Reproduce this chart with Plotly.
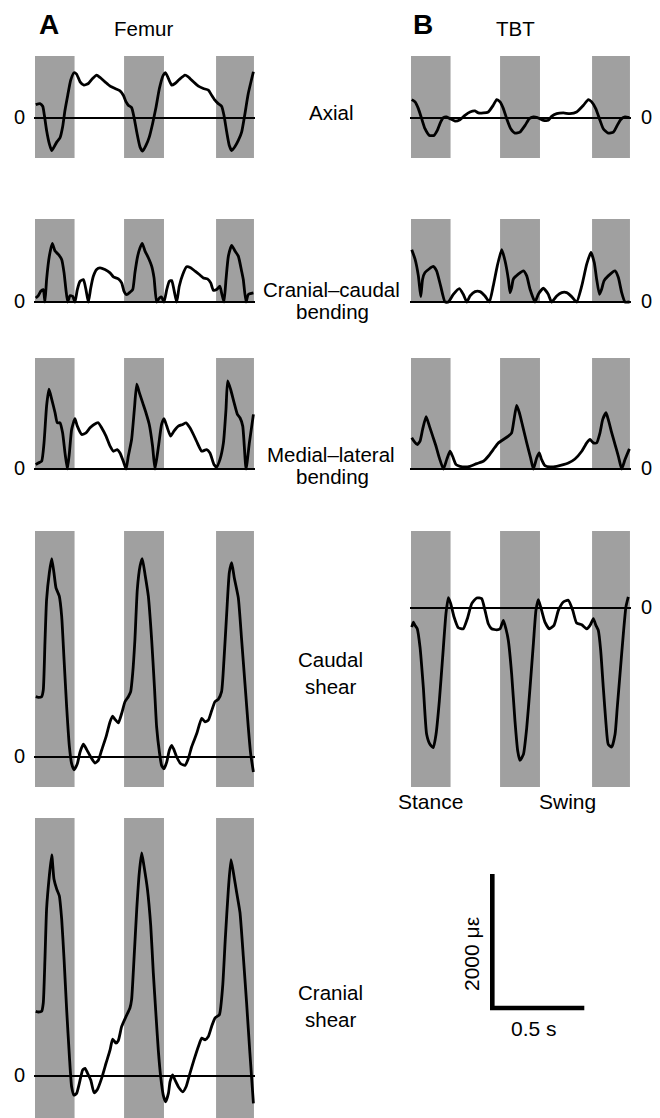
import plotly.graph_objects as go

W, H = 660, 1118          # target page size
OFF = 8                   # page body margin offset
FW, FH = W - OFF, H - OFF # figure size so that it fills the window exactly
PX_PER_S = 184.0            # 0.5 s scale bar = 92 px
PX_PER_UE = 134.0 / 2000.0  # 2000 microstrain scale bar = 134 px

# ---------------- data (time in s, strain in microstrain) ----------------
stance_start = [0.0, 0.484, 0.984]
stance_end = [0.215, 0.701, 1.19]

femur_axial_t = [0.004,0.027,0.042,0.051,0.063,0.078,0.091,0.103,0.118,0.136,0.150,0.163,0.178,0.194,0.212,0.226,0.245,0.266,0.290,0.313,0.335,0.353,0.380,0.408,0.435,0.462,0.480,0.495,0.507,0.525,0.538,0.553,0.571,0.585,0.603,0.621,0.639,0.658,0.676,0.697,0.710,0.725,0.743,0.761,0.784,0.815,0.833,0.861,0.888,0.915,0.942,0.960,0.978,0.996,1.014,1.027,1.042,1.056,1.069,1.087,1.105,1.123,1.141,1.159,1.187]
femur_axial_v = [200,215,175,40,-185,-385,-485,-435,-360,-295,-135,115,340,565,675,655,540,490,515,590,640,605,540,475,440,405,340,240,190,155,15,-210,-435,-495,-410,-285,-85,165,440,640,675,590,490,515,575,640,615,540,475,440,415,340,265,215,175,40,-210,-410,-485,-425,-335,-210,65,365,690]

tbt_axial_t = [0.004,0.022,0.040,0.058,0.076,0.100,0.125,0.143,0.161,0.176,0.194,0.212,0.239,0.266,0.293,0.321,0.348,0.366,0.393,0.420,0.447,0.466,0.484,0.502,0.520,0.542,0.565,0.592,0.620,0.643,0.665,0.687,0.719,0.746,0.764,0.792,0.828,0.864,0.900,0.937,0.964,0.982,1.004,1.024,1.045,1.072,1.100,1.121,1.139,1.163,1.187]
tbt_axial_v = [275,240,140,-10,-160,-260,-260,-185,-60,5,15,-10,-45,-25,40,90,105,75,75,90,190,275,240,140,-10,-160,-225,-210,-110,-10,15,5,-35,-35,25,65,75,65,90,190,275,240,140,-10,-160,-225,-210,-110,-25,15,5]

femur_cc_t = [0.004,0.018,0.031,0.045,0.054,0.063,0.078,0.094,0.109,0.127,0.145,0.158,0.168,0.178,0.190,0.205,0.217,0.230,0.245,0.263,0.277,0.290,0.303,0.317,0.335,0.353,0.380,0.408,0.426,0.453,0.471,0.484,0.498,0.516,0.531,0.543,0.558,0.571,0.583,0.598,0.616,0.634,0.647,0.661,0.676,0.688,0.701,0.716,0.730,0.743,0.755,0.770,0.784,0.803,0.824,0.846,0.870,0.893,0.915,0.937,0.955,0.969,0.987,1.005,1.014,1.027,1.038,1.051,1.069,1.087,1.105,1.123,1.132,1.147,1.159,1.187]
femur_cc_v = [60,95,160,185,0,335,685,875,760,710,635,435,185,0,95,85,0,185,310,335,185,0,210,385,485,510,485,435,375,345,285,160,110,145,185,435,685,810,875,760,660,535,360,0,60,75,0,185,310,320,185,0,235,410,525,510,460,410,360,345,285,175,185,235,135,0,335,685,845,760,685,460,335,0,110,135]

tbt_cc_t = [0.004,0.022,0.040,0.053,0.063,0.076,0.121,0.139,0.161,0.185,0.203,0.230,0.263,0.284,0.303,0.321,0.348,0.375,0.402,0.426,0.447,0.469,0.493,0.511,0.529,0.538,0.547,0.556,0.583,0.611,0.629,0.647,0.674,0.692,0.719,0.746,0.764,0.792,0.819,0.846,0.873,0.900,0.928,0.955,0.978,0.996,1.009,1.024,1.036,1.049,1.072,1.109,1.127,1.145,1.163,1.187]
tbt_cc_v = [780,640,390,80,340,440,530,465,240,0,0,115,200,115,0,90,155,155,90,0,240,540,780,615,340,140,215,340,415,465,390,190,0,115,205,115,0,90,140,140,80,0,240,565,740,590,340,115,190,315,390,465,365,140,0,0]

femur_ml_t = [0.004,0.018,0.036,0.049,0.063,0.076,0.091,0.109,0.121,0.136,0.150,0.163,0.176,0.187,0.199,0.217,0.230,0.254,0.277,0.299,0.321,0.344,0.362,0.386,0.408,0.426,0.447,0.462,0.480,0.495,0.507,0.525,0.540,0.553,0.567,0.585,0.603,0.621,0.639,0.652,0.670,0.688,0.701,0.716,0.737,0.755,0.779,0.803,0.821,0.842,0.861,0.882,0.906,0.933,0.951,0.973,0.987,1.005,1.024,1.038,1.047,1.063,1.082,1.100,1.114,1.129,1.147,1.165,1.187]
femur_ml_v = [65,90,115,390,940,1190,1040,840,690,690,540,240,0,240,590,750,640,515,540,615,665,690,615,490,340,265,290,240,115,0,190,440,890,1265,1140,990,840,665,340,0,315,665,750,640,490,565,640,665,690,615,515,390,265,290,240,65,30,140,390,890,1315,1190,990,815,765,640,0,390,815]

tbt_ml_t = [0.004,0.016,0.034,0.049,0.063,0.082,0.100,0.118,0.136,0.154,0.176,0.194,0.212,0.226,0.245,0.266,0.293,0.321,0.357,0.393,0.420,0.447,0.475,0.502,0.529,0.547,0.560,0.574,0.589,0.607,0.629,0.650,0.665,0.683,0.697,0.710,0.728,0.755,0.792,0.828,0.855,0.891,0.928,0.955,0.973,0.991,1.009,1.027,1.042,1.060,1.072,1.091,1.109,1.127,1.145,1.163,1.187]
tbt_ml_v = [465,415,365,415,590,780,640,490,340,165,0,140,265,190,65,40,30,40,80,115,190,290,390,440,490,540,740,950,840,640,390,165,0,165,240,140,50,30,40,65,90,150,265,390,440,390,390,540,740,840,740,540,365,190,0,140,300]

femur_caudal_t = [0.004,0.018,0.036,0.045,0.054,0.063,0.078,0.091,0.103,0.114,0.132,0.145,0.158,0.172,0.187,0.199,0.212,0.230,0.245,0.263,0.281,0.303,0.326,0.344,0.362,0.386,0.408,0.422,0.435,0.453,0.471,0.489,0.507,0.520,0.531,0.543,0.556,0.571,0.583,0.598,0.616,0.634,0.649,0.661,0.676,0.688,0.701,0.716,0.730,0.743,0.755,0.770,0.792,0.815,0.833,0.851,0.879,0.906,0.924,0.942,0.960,0.978,0.996,1.014,1.027,1.042,1.056,1.069,1.083,1.105,1.123,1.141,1.159,1.172,1.187]
femur_caudal_v = [900,890,900,1000,1700,2350,2750,2960,2750,2525,2400,2100,1450,750,150,-100,-190,-100,75,190,110,0,-90,-50,100,300,525,610,560,510,650,825,900,975,1250,1750,2500,2850,2960,2725,2400,1750,1050,450,75,-125,-175,-75,100,175,110,0,-100,-125,-25,150,350,575,525,550,690,825,860,975,1450,2150,2750,2900,2675,2375,1750,1100,450,50,-225]

tbt_caudal_t = [0.004,0.013,0.022,0.034,0.049,0.067,0.085,0.103,0.121,0.136,0.154,0.172,0.190,0.203,0.216,0.234,0.257,0.284,0.306,0.330,0.357,0.384,0.402,0.420,0.438,0.466,0.484,0.502,0.516,0.529,0.547,0.565,0.580,0.592,0.611,0.629,0.647,0.665,0.679,0.692,0.705,0.728,0.752,0.777,0.801,0.828,0.855,0.879,0.900,0.928,0.955,0.973,0.991,1.005,1.018,1.031,1.045,1.060,1.072,1.091,1.109,1.121,1.136,1.154,1.168,1.181]
tbt_caudal_v = [-285,-210,-260,-310,-585,-1185,-1885,-2035,-2085,-1885,-1385,-735,-85,155,65,-135,-295,-310,-160,65,150,140,-35,-235,-310,-325,-310,-185,-310,-485,-985,-1685,-2135,-2275,-2185,-1785,-1185,-535,-35,125,15,-210,-310,-260,-35,90,115,-35,-225,-250,-310,-260,-160,-260,-335,-635,-1185,-1735,-2035,-2075,-1885,-1485,-985,-385,15,165]

femur_cranial_t = [0.004,0.018,0.036,0.045,0.054,0.063,0.078,0.091,0.103,0.118,0.132,0.145,0.158,0.172,0.187,0.199,0.212,0.226,0.241,0.259,0.272,0.284,0.303,0.321,0.339,0.362,0.386,0.408,0.422,0.440,0.453,0.471,0.495,0.516,0.525,0.538,0.553,0.567,0.580,0.592,0.611,0.629,0.643,0.658,0.670,0.683,0.697,0.710,0.725,0.734,0.748,0.761,0.779,0.803,0.821,0.842,0.864,0.888,0.906,0.924,0.942,0.960,0.978,1.002,1.020,1.034,1.051,1.065,1.078,1.096,1.114,1.132,1.150,1.168,1.187]
femur_cranial_v = [965,955,965,1090,1740,2490,2990,3300,2940,2790,2690,2340,1740,990,290,-160,-285,-260,-110,90,115,50,-60,-250,-200,-35,190,390,550,490,530,740,890,1015,1140,1740,2490,3040,3330,3140,2790,2240,1540,890,390,-10,-285,-385,-260,-85,15,-60,-160,-235,-160,40,240,440,565,540,590,740,865,915,1340,2040,2790,3230,3040,2740,2440,1790,1090,340,-410]

scale_time = 0.5      # s
scale_strain = 2000   # microstrain

# ---------------- layout geometry (window pixel coordinates) ----------------
def px_x(x):
    return (x - OFF) / FW

def px_y(y):
    return 1 - (y - OFF) / FH

col_origin = {"L": 35.0, "R": 411.0}
col_dom = {"L": (34.0, 255.0), "R": (410.0, 631.0)}

panels = [
    dict(t=femur_axial_t, v=femur_axial_v, col="L", top=56, bot=158, zero=118),
    dict(t=tbt_axial_t, v=tbt_axial_v, col="R", top=56, bot=158, zero=118),
    dict(t=femur_cc_t, v=femur_cc_v, col="L", top=219, bot=302, zero=302),
    dict(t=tbt_cc_t, v=tbt_cc_v, col="R", top=219, bot=302, zero=302),
    dict(t=femur_ml_t, v=femur_ml_v, col="L", top=358, bot=469, zero=469),
    dict(t=tbt_ml_t, v=tbt_ml_v, col="R", top=358, bot=469, zero=469),
    dict(t=femur_caudal_t, v=femur_caudal_v, col="L", top=531, bot=787, zero=757),
    dict(t=tbt_caudal_t, v=tbt_caudal_v, col="R", top=531, bot=787, zero=608),
    dict(t=femur_cranial_t, v=femur_cranial_v, col="L", top=818, bot=1118, zero=1076),
]

GRAY = "#a0a0a0"
FONT = "Liberation Sans, Arial, Helvetica, sans-serif"

fig = go.Figure()
layout = dict(
    width=FW, height=FH, margin=dict(l=0, r=0, t=0, b=0, pad=0),
    paper_bgcolor="white", plot_bgcolor="white", showlegend=False,
)
shapes = []
zero_shapes = []

def hidden_axis(**kw):
    d = dict(visible=False, showgrid=False, zeroline=False, fixedrange=True)
    d.update(kw)
    return d

for i, p in enumerate(panels, start=1):
    sx = "" if i == 1 else str(i)
    l, r = col_dom[p["col"]]
    o = col_origin[p["col"]]
    dtop = p["top"]
    dbot = min(max(p["bot"], p["zero"] + 4), H)
    xr = [(l - o) / PX_PER_S, (r - o) / PX_PER_S]
    yr = [(p["zero"] - dbot) / PX_PER_UE, (p["zero"] - dtop) / PX_PER_UE]
    layout["xaxis" + sx] = hidden_axis(domain=[px_x(l), px_x(r)], range=xr, anchor="y" + sx)
    layout["yaxis" + sx] = hidden_axis(domain=[px_y(dbot), px_y(dtop)], range=yr, anchor="x" + sx)
    for s, e in zip(stance_start, stance_end):
        shapes.append(dict(type="rect", xref="x" + sx, yref="paper",
                           x0=max(s, xr[0]), x1=min(e, xr[1]),
                           y0=px_y(p["bot"]), y1=px_y(p["top"]),
                           fillcolor=GRAY, line=dict(width=0), layer="below"))
    zero_shapes.append(dict(type="line", xref="x" + sx, yref="y" + sx,
                            x0=xr[0], x1=xr[1], y0=0, y1=0,
                            line=dict(color="black", width=2), layer="below"))
    fig.add_trace(go.Scatter(x=p["t"], y=p["v"], mode="lines",
                             line=dict(color="black", width=2.8, shape="spline", smoothing=0.5),
                             xaxis="x" + sx, yaxis="y" + sx, hoverinfo="skip"))

# scale bar axes
sb = str(len(panels) + 1)
ox, oy = 492.3, 1008.0
sl, sr, st, sbm = 470.0, 600.0, 860.0, 1020.0
layout["xaxis" + sb] = hidden_axis(domain=[px_x(sl), px_x(sr)],
                                    range=[(sl - ox) / PX_PER_S, (sr - ox) / PX_PER_S], anchor="y" + sb)
layout["yaxis" + sb] = hidden_axis(domain=[px_y(sbm), px_y(st)],
                                    range=[(oy - sbm) / PX_PER_UE, (oy - st) / PX_PER_UE], anchor="x" + sb)
fig.add_trace(go.Scatter(x=[scale_time, 0, 0], y=[0, 0, scale_strain], mode="lines",
                         line=dict(color="black", width=4.6),
                         xaxis="x" + sb, yaxis="y" + sb, hoverinfo="skip"))

layout["shapes"] = shapes + zero_shapes

def ann(text, x, y, size=20.5, bold=False, angle=0, yanchor="middle"):
    return dict(text=("<b>%s</b>" % text) if bold else text,
                x=px_x(x), y=px_y(y), xref="paper", yref="paper",
                xanchor="center", yanchor=yanchor, showarrow=False, borderpad=0,
                textangle=angle, font=dict(family=FONT, size=size, color="black"))

annotations = [
    ann("A", 48.5, 8.5, size=28, bold=True, yanchor="top"),
    ann("Femur", 143, 28),
    ann("B", 423, 8.5, size=28, bold=True, yanchor="top"),
    ann("TBT", 515.6, 28),
    ann("Axial", 331, 112),
    ann("Cranial–caudal", 331.7, 289),
    ann("bending", 332.5, 311),
    ann("Medial–lateral", 331, 454.5),
    ann("bending", 332, 476),
    ann("Caudal", 330.5, 659),
    ann("shear", 330, 686),
    ann("Cranial", 330.5, 992),
    ann("shear", 330, 1019),
    ann("Stance", 430, 801, size=21),
    ann("Swing", 567, 801, size=21),
    ann("2000 με", 471, 954, size=21, angle=-90),
    ann("0.5 s", 534, 1028, size=21),
]
for p in panels:
    if p["col"] == "L":
        annotations.append(ann("0", 19, p["zero"] - 1, size=20))
    else:
        annotations.append(ann("0", 646.7, p["zero"] - 1, size=20))
layout["annotations"] = annotations

fig.update_layout(**layout)
fig.write_html("out.html")
